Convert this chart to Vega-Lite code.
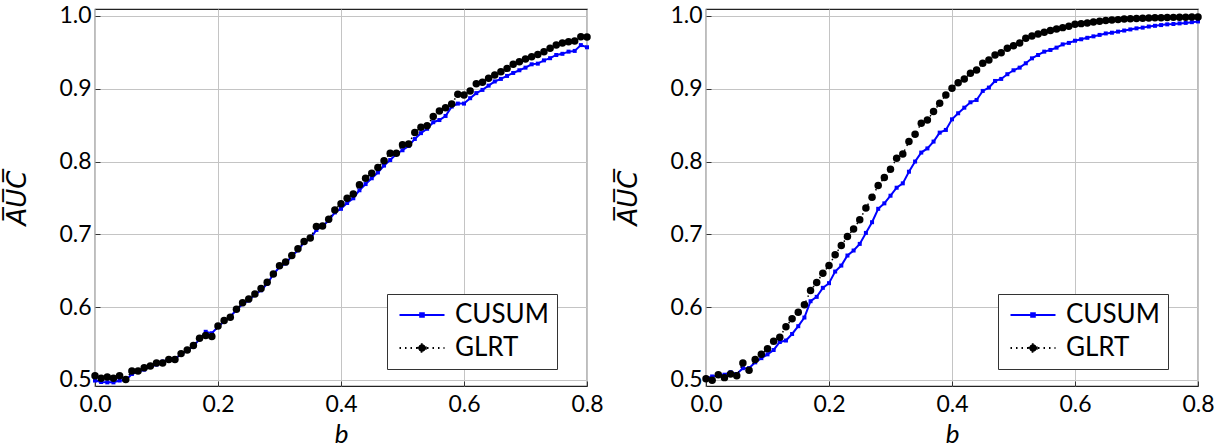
{
  "$schema": "https://vega.github.io/schema/vega-lite/v6.json",
  "padding": {"left": 4, "top": 4, "right": 0, "bottom": 0},
  "background": "white",
  "bounds": "flush",
  "spacing": 119,
  "config": {
    "view": {"stroke": "#222222", "strokeWidth": 1.2},
    "axis": {
      "labelFont": "Lato", "labelFontSize": 23, "labelColor": "#000000", "labelFlush": false,
      "titleFont": "Lato", "titleFontSize": 26, "titleFontStyle": "italic", "titleFontWeight": "normal", "titleColor": "#000000",
      "gridColor": "#c4c4c4", "gridWidth": 1, "domain": false,
      "tickColor": "#333333", "tickSize": -5, "tickWidth": 1
    }
  },
  "resolve": {"scale": {"color": "independent"}, "legend": {"color": "independent"}},
  "datasets": {
    "auc": [
      {"panel":"L","b":0.00,"CUSUM":0.499,"GLRT":0.5055},
      {"panel":"L","b":0.01,"CUSUM":0.497,"GLRT":0.502},
      {"panel":"L","b":0.02,"CUSUM":0.4965,"GLRT":0.504},
      {"panel":"L","b":0.03,"CUSUM":0.4965,"GLRT":0.502},
      {"panel":"L","b":0.04,"CUSUM":0.499,"GLRT":0.5055},
      {"panel":"L","b":0.05,"CUSUM":0.4995,"GLRT":0.5005},
      {"panel":"L","b":0.06,"CUSUM":0.508,"GLRT":0.512},
      {"panel":"L","b":0.07,"CUSUM":0.511,"GLRT":0.512},
      {"panel":"L","b":0.08,"CUSUM":0.514,"GLRT":0.5165},
      {"panel":"L","b":0.09,"CUSUM":0.518,"GLRT":0.519},
      {"panel":"L","b":0.10,"CUSUM":0.521,"GLRT":0.523},
      {"panel":"L","b":0.11,"CUSUM":0.525,"GLRT":0.523},
      {"panel":"L","b":0.12,"CUSUM":0.527,"GLRT":0.528},
      {"panel":"L","b":0.13,"CUSUM":0.529,"GLRT":0.528},
      {"panel":"L","b":0.14,"CUSUM":0.535,"GLRT":0.536},
      {"panel":"L","b":0.15,"CUSUM":0.540,"GLRT":0.541},
      {"panel":"L","b":0.16,"CUSUM":0.546,"GLRT":0.547},
      {"panel":"L","b":0.17,"CUSUM":0.556,"GLRT":0.557},
      {"panel":"L","b":0.18,"CUSUM":0.566,"GLRT":0.561},
      {"panel":"L","b":0.19,"CUSUM":0.564,"GLRT":0.5595},
      {"panel":"L","b":0.20,"CUSUM":0.573,"GLRT":0.574},
      {"panel":"L","b":0.21,"CUSUM":0.580,"GLRT":0.5815},
      {"panel":"L","b":0.22,"CUSUM":0.587,"GLRT":0.586},
      {"panel":"L","b":0.23,"CUSUM":0.596,"GLRT":0.597},
      {"panel":"L","b":0.24,"CUSUM":0.604,"GLRT":0.606},
      {"panel":"L","b":0.25,"CUSUM":0.609,"GLRT":0.611},
      {"panel":"L","b":0.26,"CUSUM":0.617,"GLRT":0.618},
      {"panel":"L","b":0.27,"CUSUM":0.623,"GLRT":0.6255},
      {"panel":"L","b":0.28,"CUSUM":0.632,"GLRT":0.634},
      {"panel":"L","b":0.29,"CUSUM":0.645,"GLRT":0.6455},
      {"panel":"L","b":0.30,"CUSUM":0.655,"GLRT":0.6566},
      {"panel":"L","b":0.31,"CUSUM":0.660,"GLRT":0.662},
      {"panel":"L","b":0.32,"CUSUM":0.670,"GLRT":0.671},
      {"panel":"L","b":0.33,"CUSUM":0.678,"GLRT":0.680},
      {"panel":"L","b":0.34,"CUSUM":0.689,"GLRT":0.690},
      {"panel":"L","b":0.35,"CUSUM":0.694,"GLRT":0.695},
      {"panel":"L","b":0.36,"CUSUM":0.706,"GLRT":0.7106},
      {"panel":"L","b":0.37,"CUSUM":0.711,"GLRT":0.7115},
      {"panel":"L","b":0.38,"CUSUM":0.719,"GLRT":0.7207},
      {"panel":"L","b":0.39,"CUSUM":0.730,"GLRT":0.7335},
      {"panel":"L","b":0.40,"CUSUM":0.735,"GLRT":0.742},
      {"panel":"L","b":0.41,"CUSUM":0.743,"GLRT":0.7495},
      {"panel":"L","b":0.42,"CUSUM":0.7495,"GLRT":0.7555},
      {"panel":"L","b":0.43,"CUSUM":0.7605,"GLRT":0.768},
      {"panel":"L","b":0.44,"CUSUM":0.769,"GLRT":0.777},
      {"panel":"L","b":0.45,"CUSUM":0.777,"GLRT":0.784},
      {"panel":"L","b":0.46,"CUSUM":0.785,"GLRT":0.7917},
      {"panel":"L","b":0.47,"CUSUM":0.7944,"GLRT":0.801},
      {"panel":"L","b":0.48,"CUSUM":0.802,"GLRT":0.8114},
      {"panel":"L","b":0.49,"CUSUM":0.8104,"GLRT":0.8114},
      {"panel":"L","b":0.50,"CUSUM":0.8155,"GLRT":0.823},
      {"panel":"L","b":0.51,"CUSUM":0.8214,"GLRT":0.824},
      {"panel":"L","b":0.52,"CUSUM":0.831,"GLRT":0.840},
      {"panel":"L","b":0.53,"CUSUM":0.839,"GLRT":0.847},
      {"panel":"L","b":0.54,"CUSUM":0.845,"GLRT":0.849},
      {"panel":"L","b":0.55,"CUSUM":0.854,"GLRT":0.862},
      {"panel":"L","b":0.56,"CUSUM":0.857,"GLRT":0.8695},
      {"panel":"L","b":0.57,"CUSUM":0.8626,"GLRT":0.874},
      {"panel":"L","b":0.58,"CUSUM":0.8755,"GLRT":0.879},
      {"panel":"L","b":0.59,"CUSUM":0.8796,"GLRT":0.8924},
      {"panel":"L","b":0.60,"CUSUM":0.8796,"GLRT":0.8915},
      {"panel":"L","b":0.61,"CUSUM":0.887,"GLRT":0.897},
      {"panel":"L","b":0.62,"CUSUM":0.894,"GLRT":0.907},
      {"panel":"L","b":0.63,"CUSUM":0.8984,"GLRT":0.909},
      {"panel":"L","b":0.64,"CUSUM":0.9043,"GLRT":0.9144},
      {"panel":"L","b":0.65,"CUSUM":0.910,"GLRT":0.919},
      {"panel":"L","b":0.66,"CUSUM":0.9135,"GLRT":0.9235},
      {"panel":"L","b":0.67,"CUSUM":0.9176,"GLRT":0.928},
      {"panel":"L","b":0.68,"CUSUM":0.9217,"GLRT":0.9336},
      {"panel":"L","b":0.69,"CUSUM":0.9254,"GLRT":0.937},
      {"panel":"L","b":0.70,"CUSUM":0.929,"GLRT":0.941},
      {"panel":"L","b":0.71,"CUSUM":0.9336,"GLRT":0.944},
      {"panel":"L","b":0.72,"CUSUM":0.9345,"GLRT":0.947},
      {"panel":"L","b":0.73,"CUSUM":0.939,"GLRT":0.951},
      {"panel":"L","b":0.74,"CUSUM":0.942,"GLRT":0.9556},
      {"panel":"L","b":0.75,"CUSUM":0.9464,"GLRT":0.960},
      {"panel":"L","b":0.76,"CUSUM":0.948,"GLRT":0.963},
      {"panel":"L","b":0.77,"CUSUM":0.951,"GLRT":0.9647},
      {"panel":"L","b":0.78,"CUSUM":0.952,"GLRT":0.9657},
      {"panel":"L","b":0.79,"CUSUM":0.960,"GLRT":0.9716},
      {"panel":"L","b":0.80,"CUSUM":0.957,"GLRT":0.971},
      {"panel":"R","b":0.00,"CUSUM":0.502,"GLRT":0.5014},
      {"panel":"R","b":0.01,"CUSUM":0.5046,"GLRT":0.4995},
      {"panel":"R","b":0.02,"CUSUM":0.506,"GLRT":0.507},
      {"panel":"R","b":0.03,"CUSUM":0.507,"GLRT":0.503},
      {"panel":"R","b":0.04,"CUSUM":0.5105,"GLRT":0.508},
      {"panel":"R","b":0.05,"CUSUM":0.508,"GLRT":0.5055},
      {"panel":"R","b":0.06,"CUSUM":0.516,"GLRT":0.523},
      {"panel":"R","b":0.07,"CUSUM":0.516,"GLRT":0.513},
      {"panel":"R","b":0.08,"CUSUM":0.524,"GLRT":0.528},
      {"panel":"R","b":0.09,"CUSUM":0.5298,"GLRT":0.535},
      {"panel":"R","b":0.10,"CUSUM":0.535,"GLRT":0.5426},
      {"panel":"R","b":0.11,"CUSUM":0.541,"GLRT":0.553},
      {"panel":"R","b":0.12,"CUSUM":0.552,"GLRT":0.5586},
      {"panel":"R","b":0.13,"CUSUM":0.554,"GLRT":0.573},
      {"panel":"R","b":0.14,"CUSUM":0.563,"GLRT":0.584},
      {"panel":"R","b":0.15,"CUSUM":0.5737,"GLRT":0.593},
      {"panel":"R","b":0.16,"CUSUM":0.5856,"GLRT":0.603},
      {"panel":"R","b":0.17,"CUSUM":0.608,"GLRT":0.6227},
      {"panel":"R","b":0.18,"CUSUM":0.614,"GLRT":0.6337},
      {"panel":"R","b":0.19,"CUSUM":0.6264,"GLRT":0.6465},
      {"panel":"R","b":0.20,"CUSUM":0.6328,"GLRT":0.657},
      {"panel":"R","b":0.21,"CUSUM":0.6488,"GLRT":0.672},
      {"panel":"R","b":0.22,"CUSUM":0.657,"GLRT":0.6845},
      {"panel":"R","b":0.23,"CUSUM":0.6708,"GLRT":0.697},
      {"panel":"R","b":0.24,"CUSUM":0.6777,"GLRT":0.7074},
      {"panel":"R","b":0.25,"CUSUM":0.6868,"GLRT":0.720},
      {"panel":"R","b":0.26,"CUSUM":0.7019,"GLRT":0.736},
      {"panel":"R","b":0.27,"CUSUM":0.7166,"GLRT":0.751},
      {"panel":"R","b":0.28,"CUSUM":0.735,"GLRT":0.767},
      {"panel":"R","b":0.29,"CUSUM":0.7425,"GLRT":0.778},
      {"panel":"R","b":0.30,"CUSUM":0.753,"GLRT":0.7895},
      {"panel":"R","b":0.31,"CUSUM":0.764,"GLRT":0.8045},
      {"panel":"R","b":0.32,"CUSUM":0.770,"GLRT":0.8104},
      {"panel":"R","b":0.33,"CUSUM":0.786,"GLRT":0.8274},
      {"panel":"R","b":0.34,"CUSUM":0.800,"GLRT":0.8375},
      {"panel":"R","b":0.35,"CUSUM":0.8123,"GLRT":0.8526},
      {"panel":"R","b":0.36,"CUSUM":0.818,"GLRT":0.8571},
      {"panel":"R","b":0.37,"CUSUM":0.8274,"GLRT":0.8686},
      {"panel":"R","b":0.38,"CUSUM":0.8397,"GLRT":0.880},
      {"panel":"R","b":0.39,"CUSUM":0.8434,"GLRT":0.8915},
      {"panel":"R","b":0.40,"CUSUM":0.858,"GLRT":0.9006},
      {"panel":"R","b":0.41,"CUSUM":0.8663,"GLRT":0.9084},
      {"panel":"R","b":0.42,"CUSUM":0.874,"GLRT":0.9135},
      {"panel":"R","b":0.43,"CUSUM":0.8814,"GLRT":0.9212},
      {"panel":"R","b":0.44,"CUSUM":0.8846,"GLRT":0.9258},
      {"panel":"R","b":0.45,"CUSUM":0.897,"GLRT":0.935},
      {"panel":"R","b":0.46,"CUSUM":0.9016,"GLRT":0.9396},
      {"panel":"R","b":0.47,"CUSUM":0.9107,"GLRT":0.9464},
      {"panel":"R","b":0.48,"CUSUM":0.9135,"GLRT":0.9496},
      {"panel":"R","b":0.49,"CUSUM":0.920,"GLRT":0.9556},
      {"panel":"R","b":0.50,"CUSUM":0.9254,"GLRT":0.9592},
      {"panel":"R","b":0.51,"CUSUM":0.929,"GLRT":0.9629},
      {"panel":"R","b":0.52,"CUSUM":0.935,"GLRT":0.9693},
      {"panel":"R","b":0.53,"CUSUM":0.9418,"GLRT":0.9725},
      {"panel":"R","b":0.54,"CUSUM":0.9464,"GLRT":0.9753},
      {"panel":"R","b":0.55,"CUSUM":0.951,"GLRT":0.9776},
      {"panel":"R","b":0.56,"CUSUM":0.9533,"GLRT":0.9799},
      {"panel":"R","b":0.57,"CUSUM":0.9565,"GLRT":0.9821},
      {"panel":"R","b":0.58,"CUSUM":0.961,"GLRT":0.984},
      {"panel":"R","b":0.59,"CUSUM":0.963,"GLRT":0.986},
      {"panel":"R","b":0.60,"CUSUM":0.966,"GLRT":0.9886},
      {"panel":"R","b":0.61,"CUSUM":0.968,"GLRT":0.9895},
      {"panel":"R","b":0.62,"CUSUM":0.970,"GLRT":0.9905},
      {"panel":"R","b":0.63,"CUSUM":0.972,"GLRT":0.9918},
      {"panel":"R","b":0.64,"CUSUM":0.974,"GLRT":0.9928},
      {"panel":"R","b":0.65,"CUSUM":0.976,"GLRT":0.9938},
      {"panel":"R","b":0.66,"CUSUM":0.977,"GLRT":0.9945},
      {"panel":"R","b":0.67,"CUSUM":0.9785,"GLRT":0.995},
      {"panel":"R","b":0.68,"CUSUM":0.980,"GLRT":0.9957},
      {"panel":"R","b":0.69,"CUSUM":0.9815,"GLRT":0.9962},
      {"panel":"R","b":0.70,"CUSUM":0.983,"GLRT":0.9966},
      {"panel":"R","b":0.71,"CUSUM":0.984,"GLRT":0.9969},
      {"panel":"R","b":0.72,"CUSUM":0.9855,"GLRT":0.9972},
      {"panel":"R","b":0.73,"CUSUM":0.9865,"GLRT":0.9975},
      {"panel":"R","b":0.74,"CUSUM":0.9875,"GLRT":0.9977},
      {"panel":"R","b":0.75,"CUSUM":0.9885,"GLRT":0.998},
      {"panel":"R","b":0.76,"CUSUM":0.989,"GLRT":0.9981},
      {"panel":"R","b":0.77,"CUSUM":0.9898,"GLRT":0.9983},
      {"panel":"R","b":0.78,"CUSUM":0.9905,"GLRT":0.9984},
      {"panel":"R","b":0.79,"CUSUM":0.9915,"GLRT":0.9985},
      {"panel":"R","b":0.80,"CUSUM":0.9925,"GLRT":0.9987}
    ]
  },
  "data": {"name": "auc"},
  "hconcat": [
    {
      "width": 492, "height": 377,
      "transform": [{"filter": "datum.panel === 'L'"}, {"fold": ["CUSUM", "GLRT"], "as": ["method", "auc"]}],
      "encoding": {
        "x": {"field": "b", "type": "quantitative", "scale": {"domain": [0, 0.8], "nice": false, "zero": false, "padding": 0},
              "axis": {"values": [0, 0.2, 0.4, 0.6, 0.8], "format": ".1f", "title": "b", "labelPadding": 12, "titlePadding": 5}},
        "y": {"field": "auc", "type": "quantitative", "scale": {"domain": [0.4915, 1.0096], "nice": false, "zero": false, "padding": 0},
              "axis": {"values": [0.5, 0.6, 0.7, 0.8, 0.9, 1.0], "format": ".1f", "title": "A\u0305U\u0305C\u0305", "titleFont": "DejaVu Sans", "titleFontSize": 26, "labelPadding": 9, "titlePadding": 28}},
        "color": {"field": "method", "type": "nominal", "scale": {"domain": ["CUSUM", "GLRT"], "range": ["#0000ff", "#000000"]},
          "legend": {
            "orient": "none", "legendX": 292, "legendY": 285, "title": null,
            "strokeColor": "#333333", "fillColor": "white", "padding": 8, "cornerRadius": 0,
            "labelFont": "Lato", "labelFontSize": 26, "labelColor": "#000000",
            "symbolSize": 400, "symbolOffset": 14, "labelOffset": 20, "rowPadding": 7,
            "encode": {"symbols": {"update": {
              "shape": {"signal": "datum.value === 'GLRT' ? 'M-2.25,0H2.25M0.38,0A0.38,0.38,0,1,1,-0.38,0A0.38,0.38,0,1,1,0.38,0Z' : 'M-2.25,0H2.25M-0.18,-0.18H0.18V0.18H-0.18Z'"},
              "fill": {"signal": "datum.value === 'GLRT' ? '#000000' : '#0000ff'"},
              "stroke": {"signal": "datum.value === 'GLRT' ? '#000000' : '#0000ff'"},
              "strokeDash": {"signal": "datum.value === 'GLRT' ? [1.5, 4] : [1, 0]"},
              "strokeWidth": {"value": 2},
              "opacity": {"value": 1}
            }}}
          }}
      },
      "layer": [
        {"transform": [{"filter": "datum.method === 'CUSUM'"}],
         "mark": {"type": "line", "strokeWidth": 2, "point": {"filled": true, "shape": "square", "size": 16}}},
        {"transform": [{"filter": "datum.method === 'GLRT'"}],
         "mark": {"type": "line", "strokeWidth": 1.5, "strokeDash": [1.5, 4], "point": {"filled": true, "size": 56}}}
      ]
    },
    {
      "width": 492, "height": 377,
      "transform": [{"filter": "datum.panel === 'R'"}, {"fold": ["CUSUM", "GLRT"], "as": ["method", "auc"]}],
      "encoding": {
        "x": {"field": "b", "type": "quantitative", "scale": {"domain": [0, 0.8], "nice": false, "zero": false, "padding": 0},
              "axis": {"values": [0, 0.2, 0.4, 0.6, 0.8], "format": ".1f", "title": "b", "labelPadding": 12, "titlePadding": 5}},
        "y": {"field": "auc", "type": "quantitative", "scale": {"domain": [0.4915, 1.0096], "nice": false, "zero": false, "padding": 0},
              "axis": {"values": [0.5, 0.6, 0.7, 0.8, 0.9, 1.0], "format": ".1f", "title": "A\u0305U\u0305C\u0305", "titleFont": "DejaVu Sans", "titleFontSize": 26, "labelPadding": 9, "titlePadding": 28}},
        "color": {"field": "method", "type": "nominal", "scale": {"domain": ["CUSUM", "GLRT"], "range": ["#0000ff", "#000000"]},
          "legend": {
            "orient": "none", "legendX": 292, "legendY": 285, "title": null,
            "strokeColor": "#333333", "fillColor": "white", "padding": 8, "cornerRadius": 0,
            "labelFont": "Lato", "labelFontSize": 26, "labelColor": "#000000",
            "symbolSize": 400, "symbolOffset": 14, "labelOffset": 20, "rowPadding": 7,
            "encode": {"symbols": {"update": {
              "shape": {"signal": "datum.value === 'GLRT' ? 'M-2.25,0H2.25M0.38,0A0.38,0.38,0,1,1,-0.38,0A0.38,0.38,0,1,1,0.38,0Z' : 'M-2.25,0H2.25M-0.18,-0.18H0.18V0.18H-0.18Z'"},
              "fill": {"signal": "datum.value === 'GLRT' ? '#000000' : '#0000ff'"},
              "stroke": {"signal": "datum.value === 'GLRT' ? '#000000' : '#0000ff'"},
              "strokeDash": {"signal": "datum.value === 'GLRT' ? [1.5, 4] : [1, 0]"},
              "strokeWidth": {"value": 2},
              "opacity": {"value": 1}
            }}}
          }}
      },
      "layer": [
        {"transform": [{"filter": "datum.method === 'CUSUM'"}],
         "mark": {"type": "line", "strokeWidth": 2, "point": {"filled": true, "shape": "square", "size": 16}}},
        {"transform": [{"filter": "datum.method === 'GLRT'"}],
         "mark": {"type": "line", "strokeWidth": 1.5, "strokeDash": [1.5, 4], "point": {"filled": true, "size": 56}}}
      ]
    }
  ]
}
